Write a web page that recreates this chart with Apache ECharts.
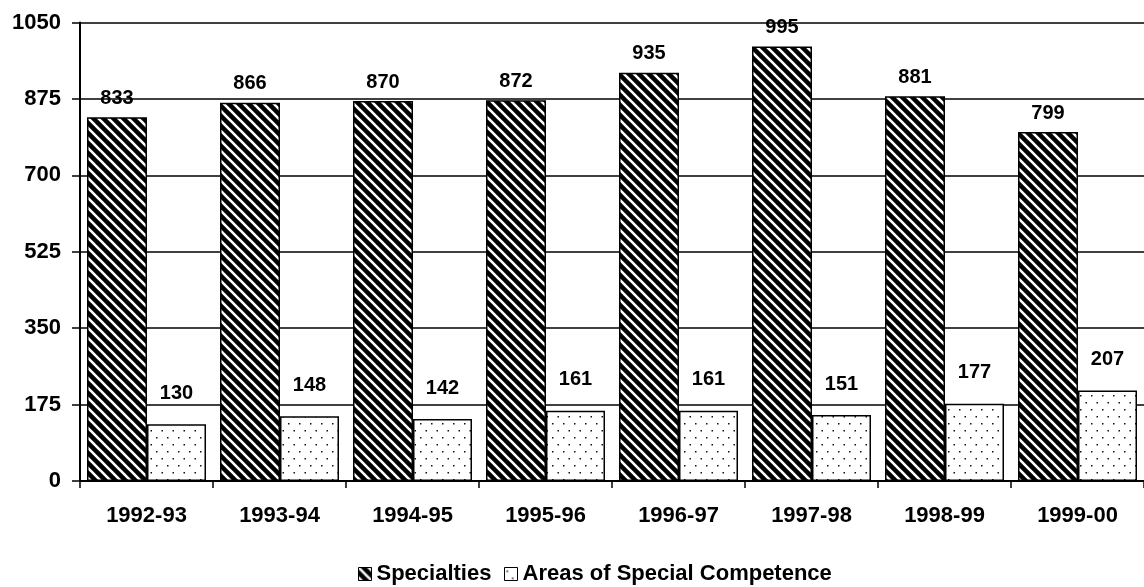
<!DOCTYPE html>
<html><head><meta charset="utf-8">
<script src="https://cdn.jsdelivr.net/npm/echarts@6/dist/echarts.min.js"></script>
<style>html,body{margin:0;padding:0;background:#fff}#c{width:1144px;height:587px}</style>
</head><body><div id="c"></div>
<script>
const categories = ['1992-93','1993-94','1994-95','1995-96','1996-97','1997-98','1998-99','1999-00'];
const specialties = [833, 866, 870, 872, 935, 995, 881, 799];
const areasOfSpecialCompetence = [130, 148, 142, 161, 161, 151, 177, 207];
const yTicks = [0, 175, 350, 525, 700, 875, 1050];

function hatch(){
  const c = document.createElement('canvas'); c.width = 10; c.height = 10;
  const g = c.getContext('2d');
  g.fillStyle = '#000'; g.fillRect(0,0,10,10);
  g.strokeStyle = '#fff'; g.lineWidth = 2.6;
  g.beginPath();
  g.moveTo(-3,-3); g.lineTo(13,13);
  g.moveTo(-3,7); g.lineTo(3,13);
  g.moveTo(7,-3); g.lineTo(13,3);
  g.stroke();
  return c;
}
function dots(){
  const c = document.createElement('canvas'); c.width = 11; c.height = 14;
  const g = c.getContext('2d');
  g.fillStyle = '#fff'; g.fillRect(0,0,11,14);
  g.fillStyle = '#111';
  g.fillRect(2,3,1.5,1.5);
  g.fillRect(7.5,10,1.5,1.5);
  return c;
}
const font = '"Liberation Sans", Arial, sans-serif';
const legendText = {fontFamily: font, fontWeight: 'bold', color: '#000', fontSize: 22};
const chart = echarts.init(document.getElementById('c'));
chart.setOption({
  animation: false,
  backgroundColor: '#fff',
  grid: {left: 80, right: -8, top: 22.5, bottom: 106},
  legend: [
    {
      left: 353, bottom: -3, itemWidth: 13, itemHeight: 13, itemGap: 6,
      textStyle: legendText,
      data: [{name: 'Specialties', icon: 'rect', itemStyle: {borderColor:'#000', borderWidth:1}}]
    },
    {
      left: 499, bottom: -3, itemWidth: 13, itemHeight: 13, itemGap: 6,
      textStyle: legendText,
      data: [{name: 'Areas of Special Competence', icon: 'rect', itemStyle: {borderColor:'#000', borderWidth:1}}]
    }
  ],
  xAxis: {
    type: 'category', data: categories,
    axisLine: {lineStyle: {color: '#000', width: 2}},
    axisTick: {show: true, length: 7, lineStyle: {color:'#000', width: 1.5}},
    axisLabel: {margin: 24, color: '#000', fontFamily: font, fontWeight: 'bold', fontSize: 22}
  },
  yAxis: {
    type: 'value', min: yTicks[0], max: yTicks[yTicks.length-1], interval: 175,
    axisLine: {show: true, lineStyle: {color:'#000', width: 2}},
    axisTick: {show: true, length: 8, lineStyle: {color:'#000', width: 1.5}},
    splitLine: {lineStyle: {color:'#000', width: 1.5}},
    axisLabel: {margin: 19, color:'#000', fontFamily: font, fontWeight:'bold', fontSize: 22,
      formatter: function(v){ return String(v); }}
  },
  series: [
    {
      name: 'Specialties', type: 'bar', data: specialties, barWidth: 60, barGap: '0%',
      itemStyle: {color: {image: hatch(), repeat: 'repeat'}, borderColor:'#000', borderWidth: 1.5},
      label: {show: true, position: 'top', distance: 9, color:'#000', fontFamily: font, fontWeight:'bold', fontSize: 20}
    },
    {
      name: 'Areas of Special Competence', type: 'bar', data: areasOfSpecialCompetence, barWidth: 59,
      itemStyle: {color: {image: dots(), repeat: 'repeat'}, borderColor:'#000', borderWidth: 1.5},
      label: {show: true, position: 'top', distance: 21, color:'#000', fontFamily: font, fontWeight:'bold', fontSize: 20}
    }
  ]
});
</script></body></html>
